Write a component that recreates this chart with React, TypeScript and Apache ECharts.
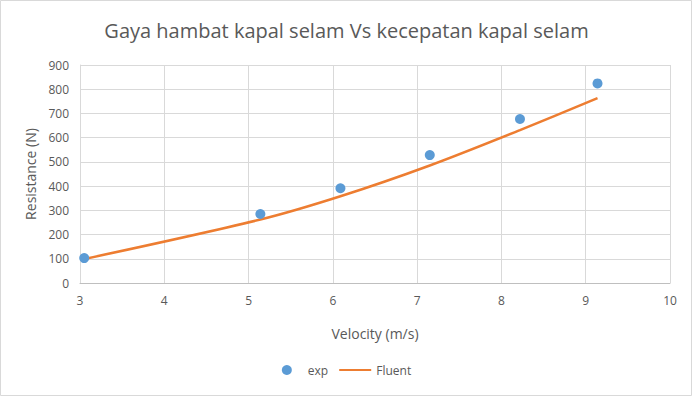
import React, { useEffect, useRef } from "react";
import * as echarts from "echarts";

const expX = [3.05, 5.14, 6.09, 7.15, 8.22, 9.14];
const expY = [103, 285, 391, 528, 677, 824];
const fluentX = [3.05, 5.14, 6.09, 7.15, 8.22, 9.14];
const fluentY = [99, 262, 358, 485, 631, 763];
const titleText = "Gaya hambat kapal selam Vs kecepatan kapal selam";
const xName = "Velocity (m/s)";
const yName = "Resistance (N)";

const FONT = "'Open Sans', 'Noto Sans', sans-serif";
const TXT = "#595959";

export default function App() {
  const ref = useRef<HTMLDivElement>(null);
  useEffect(() => {
    if (!ref.current) return;
    const chart = echarts.init(ref.current, undefined, { renderer: "svg" });
    chart.setOption({
      animation: false,
      backgroundColor: "#ffffff",
      textStyle: { fontFamily: FONT, color: TXT },
      title: {
        text: titleText,
        left: "center",
        top: 15,
        textStyle: { fontFamily: FONT, fontSize: 20, fontWeight: "normal", color: TXT },
      },
      graphic: [
        {
          type: "rect",
          shape: { x: 0.5, y: 0.5, width: 691, height: 395 },
          style: { fill: "none", stroke: "#D9D9D9", lineWidth: 1 },
          silent: true,
        },
      ],
      grid: { left: 80, right: 23, top: 65, bottom: 114, containLabel: false },
      legend: {
        bottom: 16,
        left: "center",
        itemWidth: 32,
        itemHeight: 10,
        itemGap: 10,
        textStyle: { fontFamily: FONT, fontSize: 12, color: TXT },
        data: [
          { name: "exp", icon: "circle" },
          { name: "Fluent", itemStyle: { opacity: 0 } },
        ],
      },
      xAxis: {
        type: "value",
        min: 3,
        max: 10,
        interval: 1,
        name: xName,
        nameLocation: "middle",
        nameGap: 43,
        nameTextStyle: { fontFamily: FONT, fontSize: 14, color: TXT },
        axisLine: { show: true, onZero: false, lineStyle: { color: "#BFBFBF" } },
        axisTick: { show: false },
        axisLabel: { fontFamily: FONT, fontSize: 12, color: TXT, margin: 11 },
        splitLine: { show: true, lineStyle: { color: "#D9D9D9" } },
      },
      yAxis: {
        type: "value",
        min: 0,
        max: 900,
        interval: 100,
        name: yName,
        nameLocation: "middle",
        nameGap: 43,
        nameRotate: 90,
        nameTextStyle: { fontFamily: FONT, fontSize: 14, color: TXT },
        axisLine: { show: true, lineStyle: { color: "#D9D9D9" } },
        axisTick: { show: false },
        axisLabel: { fontFamily: FONT, fontSize: 12, color: TXT, margin: 11 },
        splitLine: { show: true, lineStyle: { color: "#D9D9D9" } },
      },
      series: [
        {
          name: "exp",
          type: "scatter",
          symbol: "circle",
          symbolSize: 10,
          itemStyle: { color: "#5B9BD5", opacity: 1 },
          data: expX.map((x, i) => [x, expY[i]]),
          z: 3,
        },
        {
          name: "Fluent",
          type: "line",
          smooth: 0.3,
          symbol: "none",
          showSymbol: false,
          lineStyle: { color: "#ED7D31", width: 2.5 },
          itemStyle: { color: "#ED7D31" },
          data: fluentX.map((x, i) => [x, fluentY[i]]),
          z: 2,
        },
      ],
    });
    return () => chart.dispose();
  }, []);
  return (
    <div
      ref={ref}
      style={{ position: "fixed", left: 0, top: 0, width: 693, height: 397 }}
    />
  );
}
